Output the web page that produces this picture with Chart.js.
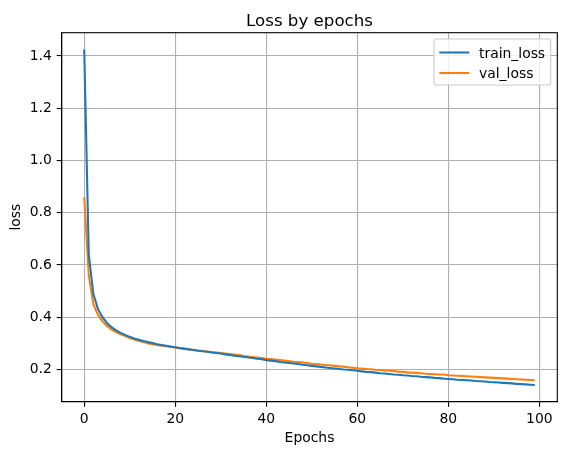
<!DOCTYPE html>
<html>
<head>
<meta charset="utf-8">
<script src="https://cdn.jsdelivr.net/npm/chart.js@4"></script>
<style>
html,body{margin:0;padding:0;background:#fff;}
#wrap{width:567px;height:455px;position:relative;}
</style>
</head>
<body>
<div id="wrap"><canvas id="c" width="567" height="455"></canvas></div>
<script>
const epochs = [];
for (let i = 0; i < 100; i++) epochs.push(i);

const trainLoss = [
1.425,0.640,0.490,0.432,0.400,0.378,0.362,0.350,0.340,0.332,
0.325,0.319,0.314,0.309,0.305,0.301,0.297,0.294,0.291,0.288,
0.285,0.282,0.280,0.277,0.275,0.272,0.270,0.268,0.265,0.263,
0.261,0.258,0.256,0.253,0.251,0.249,0.246,0.244,0.241,0.239,
0.236,0.234,0.232,0.229,0.227,0.225,0.223,0.221,0.218,0.216,
0.214,0.212,0.210,0.208,0.206,0.204,0.202,0.200,0.199,0.197,
0.195,0.193,0.191,0.190,0.188,0.186,0.185,0.183,0.181,0.180,
0.178,0.177,0.175,0.174,0.172,0.171,0.170,0.168,0.167,0.165,
0.164,0.163,0.161,0.160,0.159,0.158,0.156,0.155,0.154,0.152,
0.151,0.150,0.149,0.148,0.147,0.145,0.144,0.143,0.142,0.141
];

const valLoss = [
0.860,0.560,0.450,0.410,0.385,0.367,0.353,0.343,0.335,0.328,
0.321,0.315,0.309,0.305,0.301,0.297,0.294,0.291,0.289,0.286,
0.284,0.281,0.279,0.277,0.275,0.273,0.271,0.269,0.267,0.265,
0.263,0.261,0.259,0.257,0.255,0.252,0.250,0.248,0.246,0.244,
0.241,0.240,0.238,0.236,0.234,0.232,0.230,0.229,0.227,0.225,
0.222,0.221,0.219,0.217,0.216,0.214,0.212,0.211,0.209,0.207,
0.205,0.204,0.202,0.201,0.199,0.198,0.196,0.195,0.194,0.192,
0.191,0.189,0.188,0.187,0.186,0.184,0.183,0.182,0.181,0.181,
0.178,0.177,0.176,0.175,0.174,0.173,0.172,0.171,0.170,0.169,
0.168,0.167,0.166,0.165,0.164,0.163,0.162,0.161,0.160,0.159
];

const xTicks = [0, 20, 40, 60, 80, 100];
const xTickLabels = ['0', '20', '40', '60', '80', '100'];
const yTicks = [0.2, 0.4, 0.6, 0.8, 1.0, 1.2, 1.4];
const yTickLabels = ['0.2', '0.4', '0.6', '0.8', '1.0', '1.2', '1.4'];

const seriesNames = ['train_loss', 'val_loss'];
const titleText = 'Loss by epochs';
const xLabel = 'Epochs';
const yLabel = 'loss';

// matplotlib-like auto margins (5%)
const allVals = trainLoss.concat(valLoss);
const yMinD = Math.min.apply(null, allVals), yMaxD = Math.max.apply(null, allVals);
const yPad = (yMaxD - yMinD) * 0.05;
const xMinD = epochs[0], xMaxD = epochs[epochs.length - 1];
const xPad = (xMaxD - xMinD) * 0.05;

const FONT = 'DejaVu Sans';

const overlay = {
  id: 'overlay',
  afterDraw(chart) {
    const ctx = chart.ctx;
    const a = chart.chartArea;
    ctx.save();
    // frame
    ctx.strokeStyle = '#000';
    ctx.lineWidth = 1.1;
    ctx.strokeRect(a.left, a.top, a.right - a.left, a.bottom - a.top);
    // title
    ctx.fillStyle = '#000';
    ctx.textAlign = 'center';
    ctx.textBaseline = 'alphabetic';
    ctx.font = '16.67px "' + FONT + '"';
    ctx.fillText(titleText, (a.left + a.right) / 2, 26.3);
    // x label
    ctx.font = '13.9px "' + FONT + '"';
    ctx.fillText(xLabel, (a.left + a.right) / 2, 441.7);
    // y label
    ctx.save();
    ctx.translate(19.5, (a.top + a.bottom) / 2);
    ctx.rotate(-Math.PI / 2);
    ctx.fillText(yLabel, 0, 0);
    ctx.restore();
    // legend
    const bx = 434, by = 39, bw = 116.7, bh = 46, r = 2.8;
    ctx.beginPath();
    ctx.moveTo(bx + r, by);
    ctx.lineTo(bx + bw - r, by);
    ctx.arcTo(bx + bw, by, bx + bw, by + r, r);
    ctx.lineTo(bx + bw, by + bh - r);
    ctx.arcTo(bx + bw, by + bh, bx + bw - r, by + bh, r);
    ctx.lineTo(bx + r, by + bh);
    ctx.arcTo(bx, by + bh, bx, by + bh - r, r);
    ctx.lineTo(bx, by + r);
    ctx.arcTo(bx, by, bx + r, by, r);
    ctx.closePath();
    ctx.fillStyle = 'rgba(255,255,255,0.8)';
    ctx.fill();
    ctx.strokeStyle = '#cccccc';
    ctx.lineWidth = 1.1;
    ctx.stroke();
    const ds = chart.data.datasets;
    for (let i = 0; i < ds.length; i++) {
      const yy = 52.5 + i * 20.5;
      ctx.strokeStyle = ds[i].borderColor;
      ctx.lineWidth = 2.08;
      ctx.beginPath();
      ctx.moveTo(439.3, yy);
      ctx.lineTo(469.3, yy);
      ctx.stroke();
      ctx.fillStyle = '#000';
      ctx.textAlign = 'left';
      ctx.textBaseline = 'alphabetic';
      ctx.font = '13.9px "' + FONT + '"';
      ctx.fillText(ds[i].label, 479, yy + 5);
    }
    ctx.restore();
  }
};

new Chart(document.getElementById('c'), {
  type: 'line',
  data: {
    datasets: [
      {
        label: seriesNames[0],
        data: epochs.map((e, i) => ({x: e, y: trainLoss[i]})),
        borderColor: '#1f77b4',
        backgroundColor: '#1f77b4',
        borderWidth: 2.08,
        pointRadius: 0,
        tension: 0,
        fill: false
      },
      {
        label: seriesNames[1],
        data: epochs.map((e, i) => ({x: e, y: valLoss[i]})),
        borderColor: '#ff7f0e',
        backgroundColor: '#ff7f0e',
        borderWidth: 2.08,
        pointRadius: 0,
        tension: 0,
        fill: false
      }
    ]
  },
  options: {
    responsive: false,
    animation: false,
    devicePixelRatio: 1,
    layout: {padding: {left: 0, right: 9.7, top: 32.7, bottom: 0}},
    plugins: {legend: {display: false}, title: {display: false}, tooltip: {enabled: false}},
    scales: {
      x: {
        type: 'linear',
        min: xMinD - xPad,
        max: xMaxD + xPad,
        afterBuildTicks(s) { s.ticks = xTicks.map(v => ({value: v})); },
        afterFit(s) { s.height = 53.3; },
        ticks: {
          autoSkip: false, maxRotation: 0, padding: 4,
          color: '#000', font: {family: FONT, size: 13.9},
          callback: (v, i) => xTickLabels[i]
        },
        grid: {color: '#b0b0b0', lineWidth: 1.1, drawTicks: true, tickLength: 5, tickColor: '#000', tickWidth: 1.1},
        border: {display: true, color: '#000', width: 1.1}
      },
      y: {
        type: 'linear',
        min: yMinD - yPad,
        max: yMaxD + yPad,
        afterBuildTicks(s) { s.ticks = yTicks.map(v => ({value: v})); },
        afterFit(s) { s.width = 61.7; },
        ticks: {
          autoSkip: false, padding: 4.9,
          color: '#000', font: {family: FONT, size: 13.9},
          callback: (v, i) => yTickLabels[i]
        },
        grid: {color: '#b0b0b0', lineWidth: 1.1, drawTicks: true, tickLength: 5, tickColor: '#000', tickWidth: 1.1},
        border: {display: true, color: '#000', width: 1.1}
      }
    }
  },
  plugins: [overlay]
});
</script>
</body>
</html>
